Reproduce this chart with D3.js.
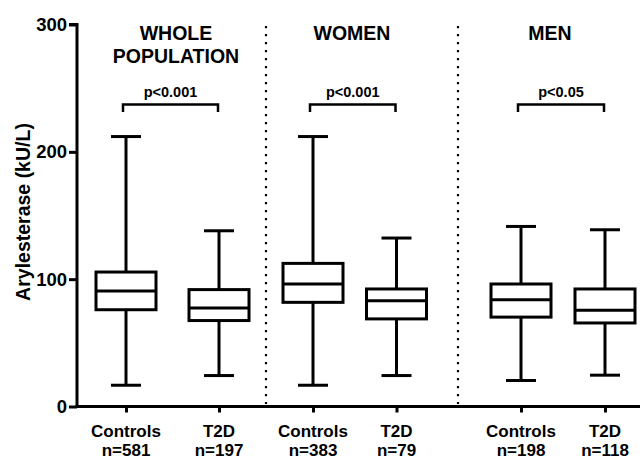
<!DOCTYPE html>
<html lang="en">
  <head>
    <meta charset="utf-8" />
    <title>Arylesterase box plot</title>
    <script src="https://cdn.jsdelivr.net/npm/d3@7"></script>
    <style>
      body { margin: 0; background: #fff; }
    </style>
  </head>
  <body>
    <svg id="chart" width="640" height="459" viewBox="0 0 640 459"></svg>
    <script>
      // data (kU/L)
      const keys = ["wc", "wt", "fc", "ft", "mc", "mt"];
      const groupLabels = ["Controls", "T2D", "Controls", "T2D", "Controls", "T2D"];
      const nLabels = ["n=581", "n=197", "n=383", "n=79", "n=198", "n=118"];
      const whiskerMin = [16.7, 24.3, 16.7, 24.3, 20.4, 24.6];
      const q1 = [76, 67.5, 81.8, 68.8, 70.2, 65.6];
      const median = [90.7, 77.4, 96.2, 83.1, 83.9, 75.5];
      const q3 = [105.6, 91.8, 112.4, 92.3, 96.2, 92.3];
      const whiskerMax = [212, 138, 212, 132.3, 141.4, 138.8];

      const panelTitles = [["WHOLE", "POPULATION"], ["WOMEN"], ["MEN"]];
      const pValues = ["p<0.001", "p<0.001", "p<0.05"];
      const yTicks = [0, 100, 200, 300];

      const font = "'Liberation Sans', Arial, sans-serif";
      const svg = d3.select("#chart").attr("font-family", font);

      const yScale = d3.scaleLinear().domain([0, 300]).range([406.5, 24.5]);
      const xScale = d3.scaleOrdinal()
        .domain(keys)
        .range([126, 219, 313, 396.5, 521, 605]);

      const axisX = 77;
      const boxW = 60;
      const capW = 30;
      const lw = 3;

      const boxes = keys.map((k, i) => ({
        key: k, lo: whiskerMin[i], q1: q1[i], med: median[i], q3: q3[i], hi: whiskerMax[i]
      }));

      // dotted panel dividers
      svg.selectAll(".divider")
        .data([266, 458])
        .enter()
        .append("line")
        .attr("class", "divider")
        .attr("x1", d => d).attr("x2", d => d)
        .attr("y1", 26).attr("y2", 404)
        .attr("stroke", "#000")
        .attr("stroke-width", 2.2)
        .attr("stroke-dasharray", "2.2,5.8");

      // boxes
      const g = svg.selectAll(".box")
        .data(boxes)
        .enter()
        .append("g")
        .attr("class", "box")
        .attr("transform", d => `translate(${xScale(d.key)},0)`);

      g.append("line")
        .attr("x1", 0).attr("x2", 0)
        .attr("y1", d => yScale(d.hi)).attr("y2", d => yScale(d.lo))
        .attr("stroke", "#000").attr("stroke-width", lw);

      g.append("line")
        .attr("x1", -capW / 2).attr("x2", capW / 2)
        .attr("y1", d => yScale(d.hi)).attr("y2", d => yScale(d.hi))
        .attr("stroke", "#000").attr("stroke-width", lw);

      g.append("line")
        .attr("x1", -capW / 2).attr("x2", capW / 2)
        .attr("y1", d => yScale(d.lo)).attr("y2", d => yScale(d.lo))
        .attr("stroke", "#000").attr("stroke-width", lw);

      g.append("rect")
        .attr("x", -boxW / 2)
        .attr("width", boxW)
        .attr("y", d => yScale(d.q3))
        .attr("height", d => yScale(d.q1) - yScale(d.q3))
        .attr("fill", "#fff")
        .attr("stroke", "#000").attr("stroke-width", lw);

      g.append("line")
        .attr("x1", -boxW / 2).attr("x2", boxW / 2)
        .attr("y1", d => yScale(d.med)).attr("y2", d => yScale(d.med))
        .attr("stroke", "#000").attr("stroke-width", lw);

      // y axis
      const yAxis = svg.append("g")
        .attr("transform", `translate(${axisX},0)`)
        .call(d3.axisLeft(yScale).tickValues(yTicks).tickSize(8).tickPadding(2));
      yAxis.select(".domain").attr("stroke-width", lw).attr("d", `M-8,${yScale(300)}H0V${yScale(0)}`);
      yAxis.selectAll(".tick line").attr("stroke-width", lw);
      yAxis.selectAll("text")
        .attr("font-family", font)
        .attr("font-size", 18.5)
        .attr("font-weight", "bold")
        .attr("fill", "#000");

      // x axis
      const xAxis = svg.append("g")
        .attr("transform", `translate(0,${yScale(0)})`)
        .call(d3.axisBottom(xScale).tickSize(6).tickFormat(""));
      xAxis.select(".domain").attr("d", `M${axisX - 1.5},0H640`).attr("stroke-width", lw);
      xAxis.selectAll(".tick line").attr("stroke-width", lw);

      svg.selectAll(".xlab")
        .data(keys)
        .enter()
        .append("text")
        .attr("class", "xlab")
        .attr("x", d => xScale(d))
        .attr("y", 436.5)
        .attr("text-anchor", "middle")
        .attr("font-size", 17)
        .attr("font-weight", "bold")
        .text((d, i) => groupLabels[i]);

      svg.selectAll(".nlab")
        .data(keys)
        .enter()
        .append("text")
        .attr("class", "nlab")
        .attr("x", d => xScale(d))
        .attr("y", 456)
        .attr("text-anchor", "middle")
        .attr("font-size", 17)
        .attr("font-weight", "bold")
        .text((d, i) => nLabels[i]);

      // y axis title
      svg.append("text")
        .attr("transform", "translate(30,212) rotate(-90)")
        .attr("text-anchor", "middle")
        .attr("font-size", 19.5)
        .attr("font-weight", "bold")
        .text("Arylesterase (kU/L)");

      // panel titles
      const titleX = [176, 352, 550];
      panelTitles.forEach((lines, i) => {
        svg.append("text")
          .attr("x", titleX[i])
          .attr("y", 39.5)
          .attr("text-anchor", "middle")
          .attr("font-size", 19.5)
          .attr("font-weight", "bold")
          .selectAll("tspan")
          .data(lines)
          .enter()
          .append("tspan")
          .attr("x", titleX[i])
          .attr("dy", (d, j) => (j === 0 ? 0 : 23))
          .text(d => d);
      });

      // significance brackets
      const pairs = [["wc", "wt"], ["fc", "ft"], ["mc", "mt"]];
      const brY = 104.5;
      pairs.forEach((p, i) => {
        const x1 = xScale(p[0]) - 3;
        const x2 = xScale(p[1]) - 1;
        svg.append("path")
          .attr("d", `M${x1},${brY + 7.5}V${brY}H${x2}V${brY + 7.5}`)
          .attr("fill", "none")
          .attr("stroke", "#000")
          .attr("stroke-width", 2.5);
        svg.append("text")
          .attr("x", (x1 + x2) / 2)
          .attr("y", 96.5)
          .attr("text-anchor", "middle")
          .attr("font-size", 14.5)
          .attr("font-weight", "bold")
          .text(pValues[i]);
      });
    </script>
  </body>
</html>
